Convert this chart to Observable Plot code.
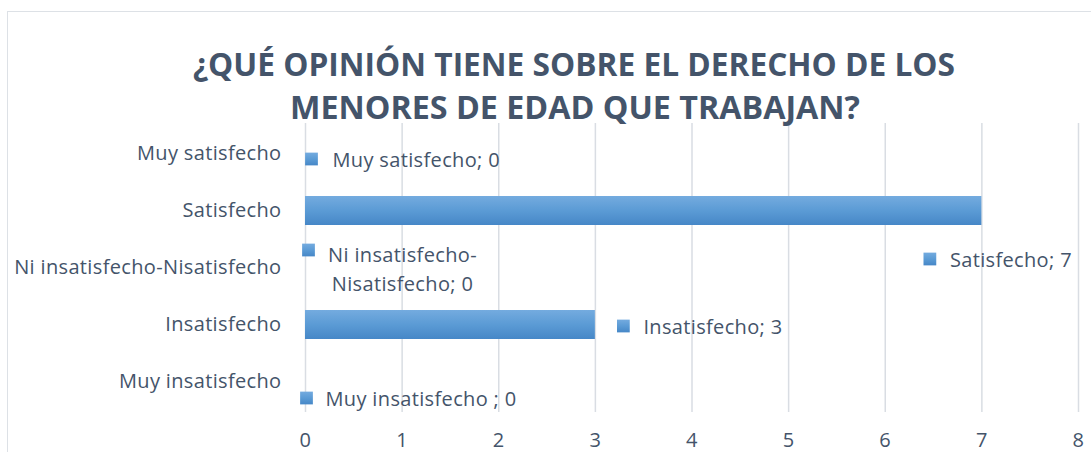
<!DOCTYPE html>
<html>
<head>
<meta charset="utf-8">
<script src="https://cdn.jsdelivr.net/npm/d3@7"></script>
<script src="https://cdn.jsdelivr.net/npm/@observablehq/plot@0.6"></script>
<style>
  html, body { margin: 0; padding: 0; background: #fff; overflow: hidden; }
  #wrap { position: relative; width: 1091px; height: 452px; }
  #box { position: absolute; left: 7px; top: 11px; width: 1200px; height: 600px; border: 1px solid #DDE1E6; box-sizing: border-box; }
  .tline { position: absolute; left: 0; white-space: nowrap; font-family: "Open Sans", sans-serif; font-weight: 700; font-size: 33px; color: #44546A; transform-origin: 0 0; line-height: 1; }
  #chart { position: absolute; left: 0; top: 0; }
  #chart svg text { letter-spacing: 0.35px; }
</style>
</head>
<body>
<div id="wrap">
  <div id="box"></div>
  <div id="chart"></div>
  <div class="tline" id="t1">¿QUÉ OPINIÓN TIENE SOBRE EL DERECHO DE LOS</div>
  <div class="tline" id="t2">MENORES DE EDAD QUE TRABAJAN?</div>
</div>
<script>
const categories = ["Muy satisfecho", "Satisfecho", "Ni insatisfecho-Nisatisfecho", "Insatisfecho", "Muy insatisfecho"];
const values = [0, 7, 0, 3, 0];
const dataLabels = ["Muy satisfecho; 0", "Satisfecho; 7", "Ni insatisfecho-\nNisatisfecho; 0", "Insatisfecho; 3", "Muy insatisfecho ; 0"];
const xTicks = [0, 1, 2, 3, 4, 5, 6, 7, 8];

const data = categories.map((c, i) => ({category: c, value: values[i], label: dataLabels[i]}));
const TXT = "#44546A";
const FONT = "'Open Sans', sans-serif";

// per-label placement offsets (Excel-style data label positions)
const labelPlacement = [
  {mdx: 6, mdy: 5, tdx: 27, tdy: 4, anchor: "start"},
  {mdx: -52, mdy: 48, tdx: -32, tdy: 47, anchor: "start"},
  {mdx: 3, mdy: -18, tdx: 97, tdy: -1, anchor: "middle"},
  {mdx: 28, mdy: 1, tdx: 48, tdy: 0, anchor: "start"},
  {mdx: 1, mdy: 16, tdx: 20, tdy: 15, anchor: "start"}
];

const labelMarks = data.flatMap((d, i) => {
  const p = labelPlacement[i];
  return [
    Plot.dot([d], {x: "value", y: "category", symbol: "square", r: 7.2, fill: "#5B9BD5", stroke: "none", dx: p.mdx, dy: p.mdy, className: "lblmark"}),
    Plot.text([d], {x: "value", y: "category", text: "label", textAnchor: p.anchor, dx: p.tdx, dy: p.tdy, fill: TXT, fontSize: 20, lineHeight: 1.45})
  ];
});

const chart = Plot.plot({
  width: 1091,
  height: 452,
  marginLeft: 305,
  marginRight: 13,
  marginTop: 123,
  marginBottom: 40,
  style: {fontFamily: FONT, background: "transparent", overflow: "visible"},
  x: {domain: [0, 8], ticks: xTicks, label: null},
  y: {domain: categories, paddingInner: 0.5, paddingOuter: 0.25, label: null},
  marks: [
    Plot.gridX(xTicks, {stroke: "#D9DDE3", strokeOpacity: 1, strokeWidth: 1.5}),
    Plot.barX(data, {x: "value", y: "category", fill: "#5B9BD5", className: "bars"}),
    Plot.axisX({ticks: xTicks, tickSize: 0, tickPadding: 0, dy: 20, fontSize: 20, fill: TXT, label: null}),
    Plot.axisY({tickSize: 0, tickPadding: 24, fontSize: 20, fill: TXT, label: null}),
    ...labelMarks
  ]
});

// gradient fill
const svg = d3.select(chart);
const defs = svg.insert("defs", ":first-child");
const g = defs.append("linearGradient").attr("id", "barGrad").attr("x1", 0).attr("y1", 0).attr("x2", 0).attr("y2", 1);
g.append("stop").attr("offset", "0%").attr("stop-color", "#74ABDF");
g.append("stop").attr("offset", "50%").attr("stop-color", "#5B9BD5");
g.append("stop").attr("offset", "100%").attr("stop-color", "#4687C7");
svg.selectAll(".bars rect").attr("fill", "url(#barGrad)");
svg.selectAll(".lblmark path").attr("fill", "url(#barGrad)");

document.getElementById("chart").appendChild(chart);

// fit the title lines to the reference widths
function fit(id, left, width, top) {
  const el = document.getElementById(id);
  const w = el.getBoundingClientRect().width;
  el.style.left = left + "px";
  el.style.top = top + "px";
  el.style.transform = `scaleX(${width / w})`;
}
fit("t1", 193, 762, 47);
fit("t2", 290, 570, 90);
</script>
</body>
</html>
